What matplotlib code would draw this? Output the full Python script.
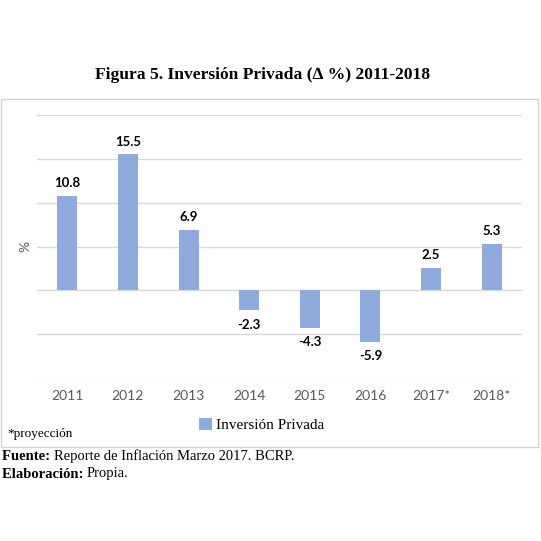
import numpy as np
import matplotlib.pyplot as plt
from matplotlib.patches import Rectangle

# data
years = ["2011", "2012", "2013", "2014", "2015", "2016", "2017*", "2018*"]
inversion = [10.8, 15.5, 6.9, -2.3, -4.3, -5.9, 2.5, 5.3]
labels = ["10.8", "15.5", "6.9", "-2.3", "-4.3", "-5.9", "2.5", "5.3"]

W = H = 541
fig = plt.figure(figsize=(W / 100, H / 100), dpi=100)

# frame around the chart
fig.patches.append(Rectangle((1 / W, 1 - 447 / H), 537 / W, 348 / H,
                             transform=fig.transFigure, fill=False,
                             edgecolor="#d4d4d4", lw=1.0))

ax = fig.add_axes([37 / W, 1 - 378 / H, 485 / W, 263 / H])
x = np.arange(len(years))
ax.bar(x, inversion, width=0.33, color="#8faadc", zorder=3,
       label="Inversión Privada")
ax.set_ylim(-10, 20)
ax.set_xlim(-0.5, len(years) - 0.5)
ax.set_yticks(np.arange(-10, 21, 5))
ax.yaxis.grid(True, color="#d9d9d9", lw=1.0, zorder=0)
ax.tick_params(axis="y", length=0, labelleft=False)
ax.tick_params(axis="x", length=0, pad=9, labelcolor="#595959")
ax.set_xticks(x)
ax.set_xticklabels(years, family="Lato", fontsize=10)
for s in ax.spines.values():
    s.set_visible(False)
ax.set_ylabel("%", color="#595959", fontsize=10, family="Lato", labelpad=4)

for xi, v, t in zip(x, inversion, labels):
    if v >= 0:
        ax.annotate(t, (xi, v), xytext=(0, 5), textcoords="offset points",
                    ha="center", va="bottom", fontsize=9.5, fontweight="bold",
                    family="Lato")
    else:
        ax.annotate(t, (xi, v), xytext=(0, -6), textcoords="offset points",
                    ha="center", va="top", fontsize=9.5, fontweight="bold",
                    family="Lato")

ax.legend(loc="center", bbox_to_anchor=(262 / W, 1 - 425 / H),
          bbox_transform=fig.transFigure, frameon=False, handlelength=0.8,
          handleheight=0.8, handletextpad=0.3,
          prop={"family": "Liberation Serif", "size": 11})

fig.text(7 / W, 1 - 434 / H, "*proyección", family="Liberation Serif",
         fontsize=9.5, va="center")

fig.text(0.485, 1 - 75 / H, "Figura 5. Inversión Privada (∆ %) 2011-2018",
         family="Liberation Serif", fontweight="bold", fontsize=12.6,
         ha="center", va="center")

# source lines: bold lead-in followed by regular text
renderer = fig.canvas.get_renderer()
for yy, lead, rest in [(456, "Fuente: ", "Reporte de Inflación Marzo 2017. BCRP."),
                       (474, "Elaboración: ", "Propia.")]:
    t1 = fig.text(2 / W, 1 - yy / H, lead, family="Liberation Serif",
                  fontweight="bold", fontsize=10.5, va="center")
    bb = t1.get_window_extent(renderer)
    fig.text(bb.x1 / W, 1 - yy / H, rest, family="Liberation Serif",
             fontsize=10.5, va="center")

fig.savefig("out.png", dpi=100)
